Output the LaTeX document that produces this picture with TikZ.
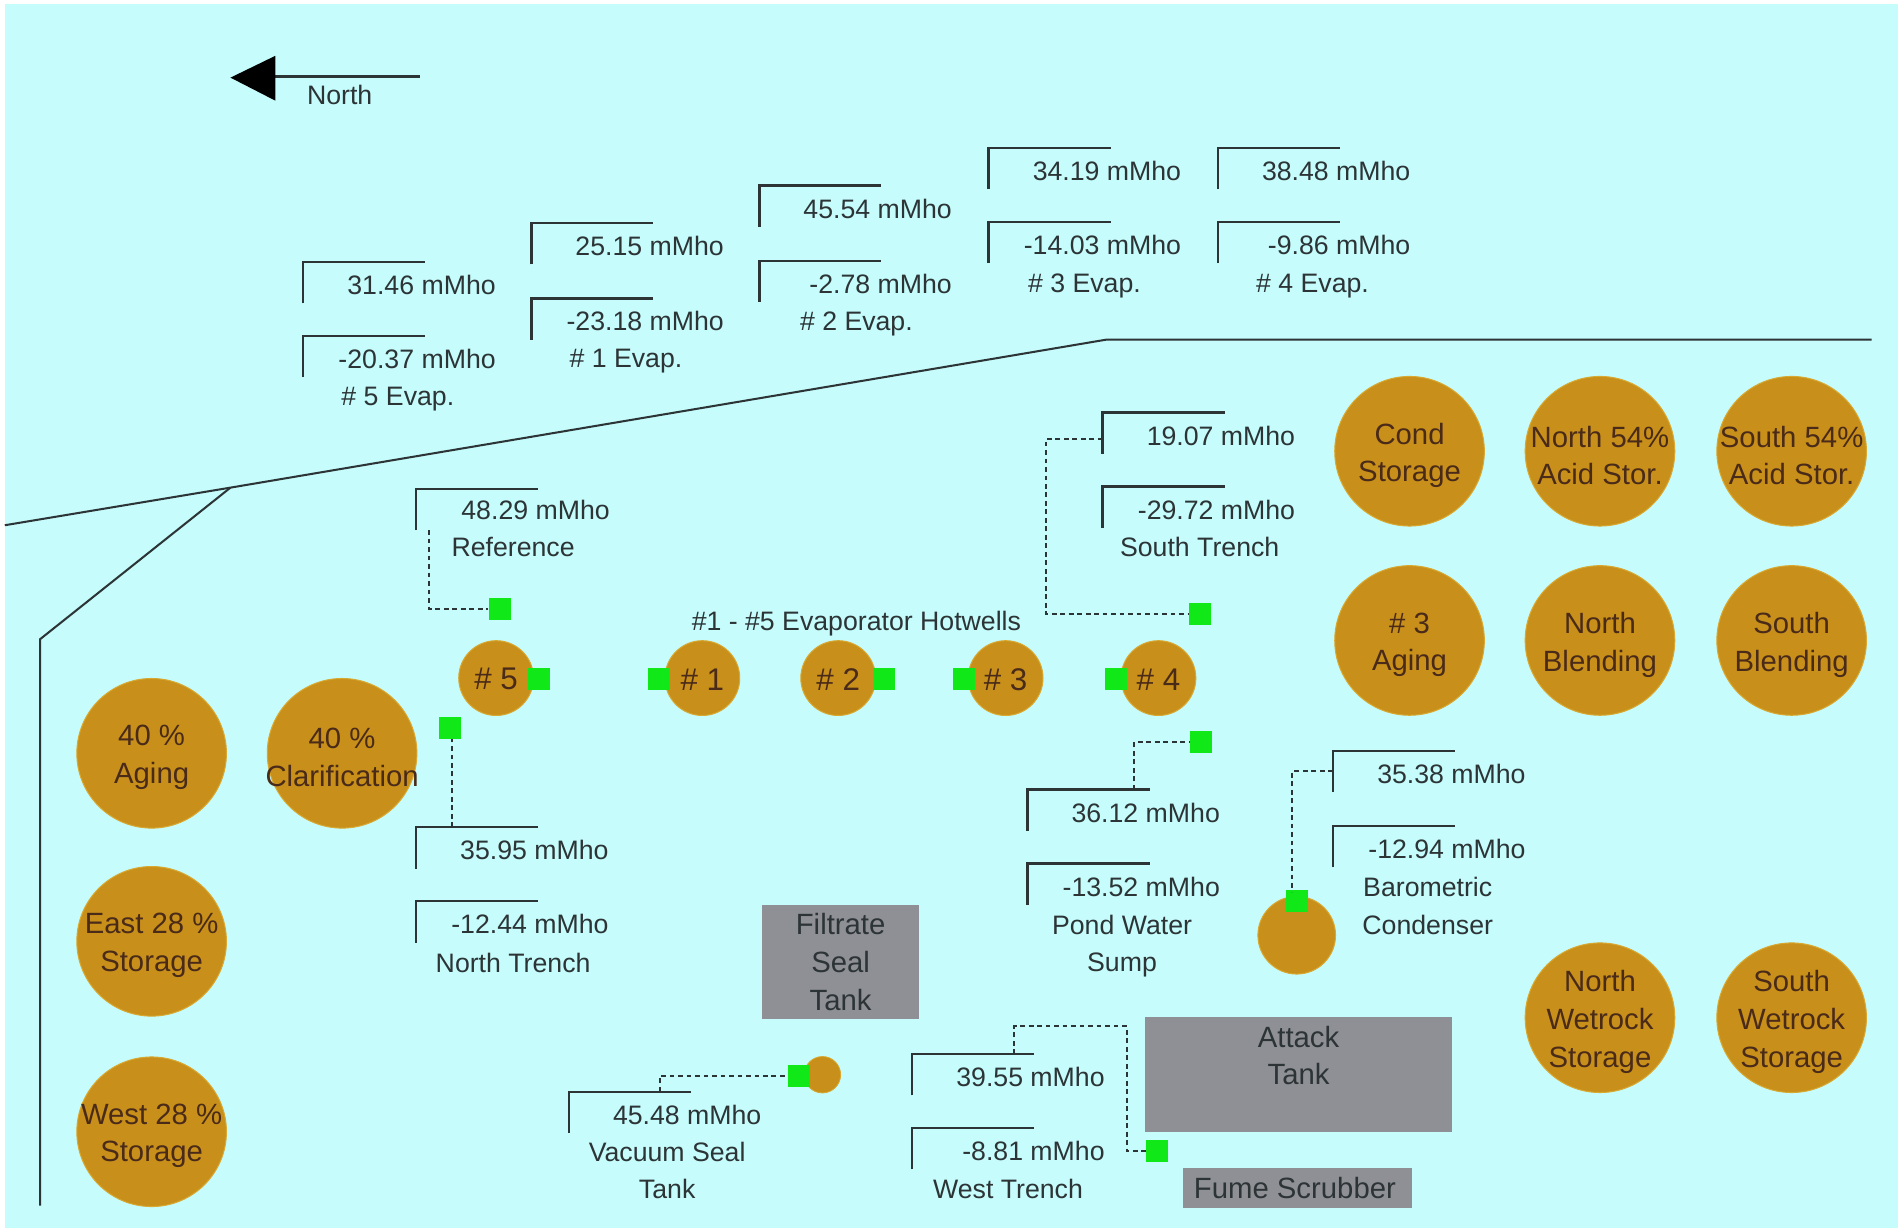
\documentclass[tikz,border=0pt]{standalone}
\usepackage{fontspec}
\setmainfont{Liberation Sans}
\usetikzlibrary{calc}
\definecolor{skyfill}{HTML}{C6FCFC}
\definecolor{tankfill}{HTML}{C8901A}
\definecolor{tankedge}{HTML}{D8A830}
\definecolor{greyfill}{HTML}{8F9095}
\definecolor{sensor}{HTML}{10E818}
\definecolor{ink}{HTML}{2C3436}
\definecolor{tankink}{HTML}{4A2A18}
\tikzset{
  bigc/.style={circle,fill=tankfill,draw=tankedge,line width=.5pt,inner sep=0pt,minimum size=74pt},
  smallc/.style={circle,fill=tankfill,draw=tankedge,line width=.5pt,inner sep=0pt,minimum size=37pt},
  tinyc/.style={circle,fill=tankfill,draw=tankedge,line width=.4pt,inner sep=0pt,minimum size=18pt},
  tanklbl/.style={text=tankink,align=center,inner sep=0pt,yshift=-2.1pt,font=\fontsize{14.5}{18.6}\selectfont},
  numlbl/.style={text=tankink,inner sep=0pt,yshift=-.6pt,font=\fontsize{15.5}{18}\selectfont},
  greytank/.style={rectangle,fill=greyfill,text=ink,inner sep=0pt,align=center,font=\fontsize{14.5}{18.6}\selectfont},
  sensorbox/.style={rectangle,fill=sensor,inner sep=0pt,minimum size=10.8pt},
  readout/.style={rectangle,inner sep=0pt,minimum width=60pt,minimum height=20pt,anchor=north west},
  valtxt/.style={anchor=east,inner sep=0pt,text=ink,font=\fontsize{13.2}{16}\selectfont},
  caption/.style={inner sep=0pt,text=ink,align=center,font=\fontsize{13.2}{18.6}\selectfont},
  bracket/.style={draw=ink,line width=1.2pt},
  wall/.style={draw=ink,line width=1pt},
  probe/.style={draw=ink,line width=1pt,dash pattern=on 2.4pt off 1.8pt},
}
\newcommand{\valbox}[4]{%
  \node[readout] (#1) at (#2,#3) {};
  \draw[bracket] (#1.south west) -- (#1.north west) -- (#1.north east);
  \node[valtxt] (#1v) at ($(#1.north west)+(159,19)$) {#4};
}
\newcommand{\bigtank}[4]{\node[bigc,label={[tanklbl]center:{#4}}] (#1) at (#2,#3) {};}
\newcommand{\hotwell}[4]{\node[smallc,label={[numlbl]center:{#4}}] (#1) at (#2,#3) {};}
\begin{document}
\begin{tikzpicture}[x=0.6pt,y=-0.6pt]
\useasboundingbox (0,0) rectangle (1568,1014);
\fill[white] (0,0) rectangle (1568,1014);
\fill[skyfill] (4,3) rectangle (1565,1012);

% building outline
\coordinate (wa) at (4,433);
\coordinate (wb) at (190,402);
\coordinate (wc) at (912,280);
\coordinate (wd) at (1543,280);
\coordinate (we) at (33,527);
\coordinate (wf) at (33,994);
\draw[wall] (wa) -- (wb) -- (wc) -- (wd);
\draw[wall] (wb) -- (we) -- (wf);

% north arrow
\coordinate (na) at (346,63);
\coordinate (nb) at (227,63);
\draw[draw=ink,line width=1.1pt] (na) -- (nb);
\fill[black] (190,64) -- (227,46) -- (227,83) -- cycle;
\node[caption] (northlbl) at (280,78) {North};

% evaporator readouts
\valbox{e5a}{250}{216}{31.46 mMho}
\valbox{e5b}{250}{277}{-20.37 mMho}
\node[caption] (e5l) at (328,329) {\# 5 Evap.};
\valbox{e1a}{438}{184}{25.15 mMho}
\valbox{e1b}{438}{246}{-23.18 mMho}
\node[caption] (e1l) at (516,298) {\# 1 Evap.};
\valbox{e2a}{626}{153}{45.54 mMho}
\valbox{e2b}{626}{215}{-2.78 mMho}
\node[caption] (e2l) at (706,267) {\# 2 Evap.};
\valbox{e3a}{815}{122}{34.19 mMho}
\valbox{e3b}{815}{183}{-14.03 mMho}
\node[caption] (e3l) at (894,236) {\# 3 Evap.};
\valbox{e4a}{1004}{122}{38.48 mMho}
\valbox{e4b}{1004}{183}{-9.86 mMho}
\node[caption] (e4l) at (1082,236) {\# 4 Evap.};

% other readouts
\node[readout] (ref) at (343,403) {};
\draw[bracket] (ref.south west) -- (ref.north west) -- (ref.north east);
\node[valtxt] (refv) at ($(ref.north west)+(160,17)$) {48.29 mMho};
\node[caption] (refl) at (423,451) {Reference};
\valbox{sta}{909}{340}{19.07 mMho}
\valbox{stb}{909}{401}{-29.72 mMho}
\node[caption] (stl) at (989,451) {South Trench};
\valbox{nta}{343}{682}{35.95 mMho}
\valbox{ntb}{343}{743}{-12.44 mMho}
\node[caption] (ntl) at (423,794) {North Trench};
\valbox{pwa}{847}{651}{36.12 mMho}
\valbox{pwb}{847}{712}{-13.52 mMho}
\node[caption] (pwl) at (925,780) {Pond Water\\Sump};
\valbox{baa}{1099}{619}{35.38 mMho}
\valbox{bab}{1099}{681}{-12.94 mMho}
\node[caption] (bal) at (1177,747) {Barometric\\Condenser};
\valbox{vs}{469}{900}{45.48 mMho}
\node[caption] (vsl) at (550,965) {Vacuum Seal\\Tank};
\valbox{wta}{752}{869}{39.55 mMho}
\valbox{wtb}{752}{930}{-8.81 mMho}
\node[caption] (wtl) at (831,980) {West Trench};
\node[caption,font=\fontsize{13.2}{16}\selectfont] (hot) at (706,514) {\#1 - \#5 Evaporator Hotwells};

% large tanks
\bigtank{cond}{1162}{372}{Cond\\Storage}
\bigtank{n54}{1319}{372}{North 54\%\\Acid Stor.}
\bigtank{s54}{1477}{372}{South 54\%\\Acid Stor.}
\bigtank{aging3}{1162}{528}{\# 3\\Aging}
\bigtank{nbl}{1319}{528}{North\\Blending}
\bigtank{sbl}{1477}{528}{South\\Blending}
\bigtank{nwr}{1319}{839}{North\\Wetrock\\Storage}
\bigtank{swr}{1477}{839}{South\\Wetrock\\Storage}
\bigtank{aging40}{125}{621}{40 \%\\Aging}
\bigtank{clar40}{282}{621}{40 \%\\Clarification}
\bigtank{east28}{125}{776}{East 28 \%\\Storage}
\bigtank{west28}{125}{933}{West 28 \%\\Storage}

% hotwells and small vessels
\hotwell{h5}{409}{559}{\# 5}
\hotwell{h1}{579}{559}{\# 1}
\hotwell{h2}{691}{559}{\# 2}
\hotwell{h3}{829}{559}{\# 3}
\hotwell{h4}{955}{559}{\# 4}
\node[smallc,minimum size=38.4pt] (baro) at (1069,771) {};
\node[tinyc] (vac) at (678,886) {};

% grey tanks
\node[greytank,minimum width=78pt,minimum height=56.4pt] (filt) at (693,793) {Filtrate\\Seal\\Tank};
\node[greytank,minimum width=151.8pt,minimum height=57pt] (attack) at (1070.5,885.5) {Attack\\Tank\\[0pt]\mbox{}};
\node[greytank,minimum width=113.4pt,minimum height=19.8pt] (fume) at (1069.5,979.5) {\hspace*{-2.4pt}Fume Scrubber};

% sensors
\node[sensorbox] (s1) at (412,502) {};
\node[sensorbox] (s2) at (444,560) {};
\node[sensorbox] (s3) at (543,560) {};
\node[sensorbox] (s4) at (729,560) {};
\node[sensorbox] (s5) at (795,560) {};
\node[sensorbox] (s6) at (920,560) {};
\node[sensorbox] (s7) at (989,506) {};
\node[sensorbox] (s8) at (371,600) {};
\node[sensorbox] (s9) at (990,612) {};
\node[sensorbox] (s10) at (1069,743) {};
\node[sensorbox] (s11) at (659,887) {};
\node[sensorbox] (s12) at (954,949) {};

% probe lines
\coordinate (t1) at (354,437);
\coordinate (t2) at (373,682);
\coordinate (t3) at (935,651);
\coordinate (t4) at (909,362);
\coordinate (t5) at (862,506);
\coordinate (t6) at (1099,636);
\coordinate (t7) at (1065,735);
\coordinate (t8) at (544,900);
\coordinate (t9) at (836,869);
\coordinate (t10) at (929,846);
\draw[probe] (t1) |- (s1.west);
\draw[probe] (t2) -- (t2 |- s8.south);
\draw[probe] (t3) |- (s9.west);
\draw[probe] (t4) -| (t5) -- (s7.west);
\draw[probe] (t6) -| (t7);
\draw[probe] (t8) |- (s11.west);
\draw[probe] (t9) |- (t10) |- (s12.west);
\end{tikzpicture}
\end{document}
